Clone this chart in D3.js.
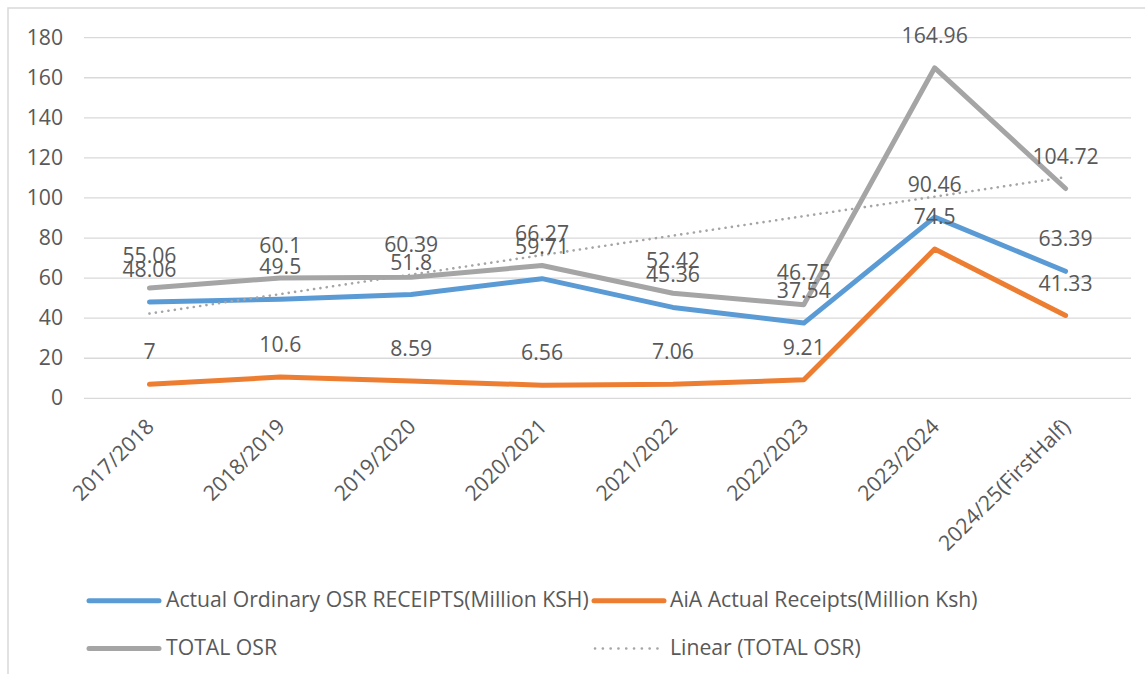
<!DOCTYPE html>
<html>
<head>
<meta charset="utf-8">
<script src="https://cdn.jsdelivr.net/npm/d3@7/dist/d3.min.js"></script>
<style>
  html, body { margin: 0; padding: 0; background: #fff; }
  svg { display: block; }
  text { font-family: "Open Sans", "Liberation Sans", Arial, sans-serif; fill: #595959; }
</style>
</head>
<body>
<svg id="chart" width="1145" height="674"></svg>
<script>
const categories = ["2017/2018", "2018/2019", "2019/2020", "2020/2021", "2021/2022", "2022/2023", "2023/2024", "2024/25(FirstHalf)"];
const ordinaryOSR = [48.06, 49.5, 51.8, 59.71, 45.36, 37.54, 90.46, 63.39];
const aiaReceipts = [7, 10.6, 8.59, 6.56, 7.06, 9.21, 74.5, 41.33];
const totalOSR = [55.06, 60.1, 60.39, 66.27, 52.42, 46.75, 164.96, 104.72];
const yTicks = [0, 20, 40, 60, 80, 100, 120, 140, 160, 180];
const seriesNames = ["Actual Ordinary OSR RECEIPTS(Million KSH)", "AiA Actual Receipts(Million Ksh)", "TOTAL OSR", "Linear (TOTAL OSR)"];

const colors = { blue: "#5B9BD5", orange: "#ED7D31", gray: "#A5A5A5" };
const FONT = "'Open Sans', 'Liberation Sans', Arial, sans-serif";
const FS = 21.2;

const svg = d3.select("#chart");

// chart border
svg.append("rect").attr("x", 8).attr("y", 8).attr("width", 1200).attr("height", 700)
  .attr("fill", "none").attr("stroke", "#D9D9D9").attr("stroke-width", 1.5);

const x = d3.scalePoint().domain(categories).range([84, 1131]).padding(0.5);
const y = d3.scaleLinear().domain([0, 180]).range([398.3, 37.7]);

// gridlines
svg.append("g").selectAll("line").data(yTicks).join("line")
  .attr("x1", 84).attr("x2", 1131)
  .attr("y1", d => y(d)).attr("y2", d => y(d))
  .attr("stroke", "#D9D9D9").attr("stroke-width", 1.3);

// y axis labels
const yAxis = d3.axisLeft(y).tickValues(yTicks).tickSize(0).tickPadding(0).tickFormat(d3.format("d"));
const yg = svg.append("g").attr("transform", "translate(63,0)").call(yAxis);
yg.select(".domain").remove();
yg.selectAll("text").attr("font-size", FS).attr("dy", null)
  .attr("y", 6.3).attr("x", 0).style("fill", "#595959").style("font-family", FONT);

// x axis labels
const xAxis = d3.axisBottom(x).tickSize(0).tickPadding(0);
const xg = svg.append("g").call(xAxis);
xg.select(".domain").remove();
xg.selectAll(".tick").attr("transform", d => `translate(${x(d) + 6},428)`);
xg.selectAll("text").attr("font-size", FS).attr("y", 0).attr("x", 0).attr("dy", null)
  .attr("text-anchor", "end").attr("transform", "rotate(-45)")
  .style("fill", "#595959").style("font-family", FONT);

// lines
const line = d3.line().x((d, i) => x(categories[i])).y(d => y(d));
const series = [
  { values: ordinaryOSR, color: colors.blue },
  { values: aiaReceipts, color: colors.orange },
  { values: totalOSR, color: colors.gray }
];
svg.append("g").selectAll("path").data(series).join("path")
  .attr("d", d => line(d.values))
  .attr("fill", "none").attr("stroke", d => d.color).attr("stroke-width", 5)
  .attr("stroke-linejoin", "round").attr("stroke-linecap", "round");

// linear trendline of TOTAL OSR (least squares over category index)
const n = totalOSR.length;
const xs = d3.range(1, n + 1);
const mx = d3.mean(xs), my = d3.mean(totalOSR);
const slope = d3.sum(xs, (xi, i) => (xi - mx) * (totalOSR[i] - my)) / d3.sum(xs, xi => (xi - mx) ** 2);
const intercept = my - slope * mx;
const trend = xs.map(xi => intercept + slope * xi);
svg.append("path").attr("d", line(trend))
  .attr("fill", "none").attr("stroke", colors.gray).attr("stroke-width", 2.6)
  .attr("stroke-dasharray", "0.1,6.3").attr("stroke-linecap", "round");

// data labels
const labelSeries = [ordinaryOSR, aiaReceipts, totalOSR];
labelSeries.forEach(vals => {
  svg.append("g").selectAll("text").data(vals).join("text")
    .attr("x", (d, i) => x(categories[i]))
    .attr("y", d => y(d) - 25)
    .attr("text-anchor", "middle").attr("font-size", FS)
    .text(d => d);
});

// legend
const legendItems = [
  { name: seriesNames[0], color: colors.blue, dash: null, w: 5, lx: 89, ly: 600.7 },
  { name: seriesNames[1], color: colors.orange, dash: null, w: 5, lx: 594, ly: 600.7 },
  { name: seriesNames[2], color: colors.gray, dash: null, w: 5, lx: 89, ly: 648.5 },
  { name: seriesNames[3], color: colors.gray, dash: "0.1,7.7", w: 2.6, lx: 595, ly: 648.5 }
];
const lg = svg.append("g").selectAll("g").data(legendItems).join("g");
lg.append("line")
  .attr("x1", d => d.lx).attr("x2", d => d.lx + (d.dash ? 64 : 70))
  .attr("y1", d => d.ly).attr("y2", d => d.ly)
  .attr("stroke", d => d.color).attr("stroke-width", d => d.w)
  .attr("stroke-linecap", "round")
  .attr("stroke-dasharray", d => d.dash);
lg.append("text")
  .attr("x", (d, i) => i % 2 === 0 ? 166 : 670).attr("y", d => d.ly + 6)
  .attr("font-size", FS)
  .text(d => d.name);
</script>
</body>
</html>
